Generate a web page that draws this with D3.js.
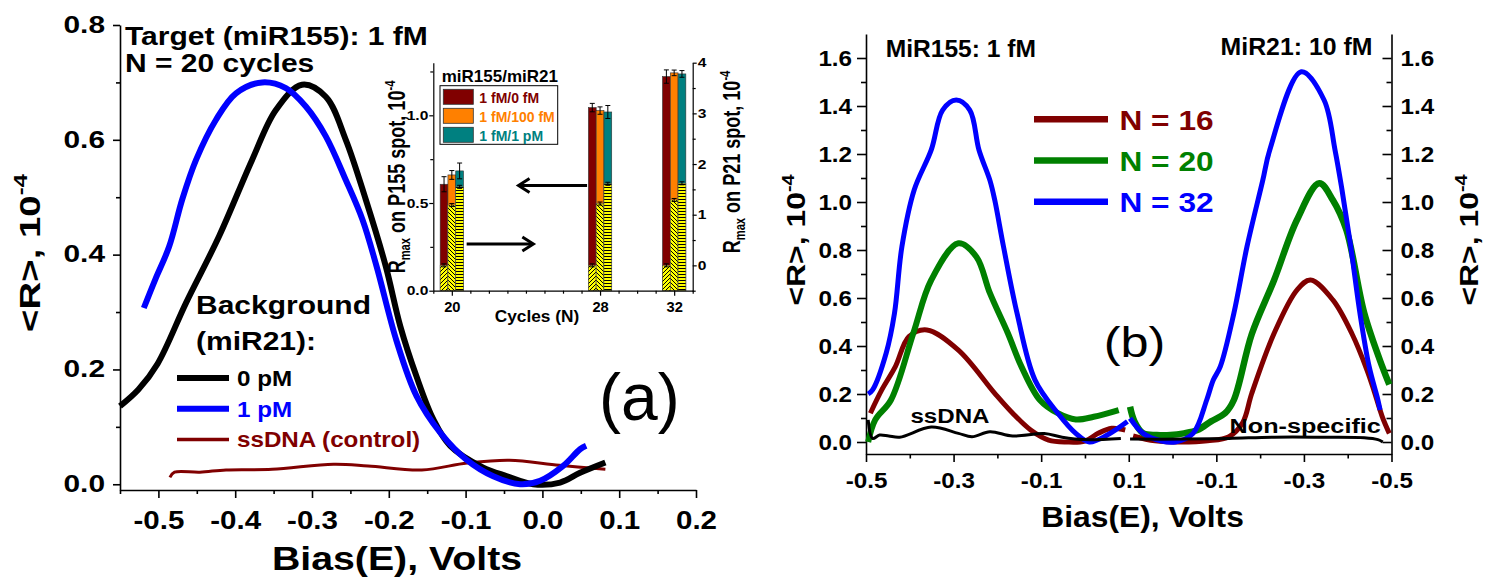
<!DOCTYPE html>
<html><head><meta charset="utf-8">
<script src="https://cdn.jsdelivr.net/npm/d3@7"></script>
<style>
html,body{margin:0;padding:0;background:#fff;}
svg{display:block;font-family:"Liberation Sans",Arial,Helvetica,sans-serif;}
</style></head><body>
<svg id="fig" width="1485" height="579"></svg>
<script>
// ---------- Panel (a): <R> vs bias, N = 20 cycles ----------
const biasTicksA = [-0.5, -0.4, -0.3, -0.2, -0.1, 0.0, 0.1, 0.2];
const rTicksA = [0.0, 0.2, 0.4, 0.6, 0.8];
// [bias (V), <R> (1e-4)]
const bg0pM = [[-0.55,0.136],[-0.526,0.165],[-0.501,0.21],[-0.464,0.316],[-0.421,0.432],[-0.378,0.565],
  [-0.347,0.652],[-0.313,0.696],[-0.282,0.675],[-0.256,0.60],[-0.23,0.496],[-0.204,0.38],[-0.185,0.275],
  [-0.164,0.188],[-0.142,0.113],[-0.12,0.067],[-0.077,0.029],[-0.046,0.014],[-0.012,0.0],[0.023,0.003],
  [0.049,0.02],[0.082,0.038]];
const bg1pM = [[-0.519,0.307],[-0.504,0.357],[-0.486,0.414],[-0.469,0.496],[-0.451,0.565],[-0.425,0.635],
  [-0.399,0.681],[-0.365,0.70],[-0.334,0.69],[-0.308,0.658],[-0.282,0.606],[-0.256,0.53],[-0.234,0.46],
  [-0.216,0.38],[-0.19,0.25],[-0.164,0.154],[-0.133,0.09],[-0.099,0.043],[-0.064,0.014],[-0.029,0.0],
  [-0.003,0.006],[0.027,0.032],[0.049,0.061],[0.057,0.067]];
const ssDNAControl = [[-0.485,0.012],[-0.479,0.021],[-0.446,0.021],[-0.412,0.025],[-0.352,0.026],[-0.272,0.035],
  [-0.227,0.032],[-0.157,0.025],[-0.098,0.037],[-0.043,0.042],[0.022,0.033],[0.082,0.026]];

// ---------- Inset: R_max per spot vs number of cycles ----------
const cycles = [20, 28, 32];
const mixLabels = ["1 fM/0 fM", "1 fM/100 fM", "1 fM/1 pM"];
const p155_0fM = [0.607, 1.044, 1.221];
const p155_100fM = [0.660, 1.027, 1.242];
const p155_1pM = [0.683, 1.019, 1.236];
const p155Err_0fM = [0.043, 0.024, 0.038];
const p155Err_100fM = [0.025, 0.021, 0.016];
const p155Err_1pM = [0.045, 0.037, 0.019];
const p21_0fM = [0.0, 0.0, 0.0];
const p21_100fM = [1.19, 1.22, 1.29];
const p21_1pM = [1.55, 1.61, 1.62];
const p21Err = [0.03, 0.03, 0.03];

// ---------- Panel (b): forward sweep over P155, return sweep over P21 ----------
const sweepTickBias = [-0.5, -0.3, -0.1, 0.1, -0.1, -0.3, -0.5];
const sweepTickLeg = [0, 0, 0, 0, 1, 1, 1];
const rTicksB = [0.0, 0.2, 0.4, 0.6, 0.8, 1.0, 1.2, 1.4, 1.6];
// leg 0: MiR155 spot (bias rising), leg 1: MiR21 spot (bias falling); [bias (V), <R> (1e-4)]
const n16Mir155 = [[-0.49,0.12],[-0.464,0.217],[-0.433,0.314],[-0.402,0.439],[-0.361,0.467],[-0.289,0.383],
  [-0.206,0.203],[-0.165,0.12],[-0.124,0.05],[-0.083,0.008],[-0.042,0.0],[0.0,0.004],[0.03,0.036],
  [0.061,0.057],[0.092,0.05]];
const n16Mir21 = [[0.09,0.025],[0.04,0.005],[-0.02,0.0],[-0.08,0.005],[-0.129,0.022],[-0.16,0.08],[-0.181,0.203],
  [-0.232,0.453],[-0.284,0.633],[-0.315,0.675],[-0.366,0.592],[-0.41,0.45],[-0.444,0.30],[-0.459,0.22],
  [-0.479,0.105],[-0.495,0.036]];
const n20Mir155 = [[-0.495,0.0],[-0.479,0.092],[-0.443,0.175],[-0.392,0.453],[-0.351,0.675],[-0.289,0.828],
  [-0.248,0.772],[-0.217,0.62],[-0.176,0.453],[-0.145,0.314],[-0.103,0.175],[-0.062,0.12],[-0.021,0.094],
  [0.02,0.105],[0.077,0.133]];
const n20Mir21 = [[0.097,0.147],[0.087,0.086],[0.067,0.036],[0.036,0.029],[0.005,0.029],[-0.026,0.036],
  [-0.057,0.05],[-0.088,0.086],[-0.12,0.12],[-0.14,0.175],[-0.181,0.45],[-0.232,0.675],[-0.284,0.925],
  [-0.335,1.078],[-0.366,1.008],[-0.397,0.883],[-0.438,0.536],[-0.479,0.314],[-0.495,0.24]];
const n32Mir155 = [[-0.495,0.20],[-0.485,0.217],[-0.454,0.37],[-0.435,0.536],[-0.418,0.814],[-0.39,1.05],
  [-0.351,1.217],[-0.325,1.383],[-0.294,1.425],[-0.263,1.383],[-0.242,1.217],[-0.217,1.09],[-0.206,1.008],
  [-0.186,0.814],[-0.155,0.536],[-0.114,0.258],[-0.062,0.12],[-0.021,0.036],[0.01,0.0],[0.051,0.029],[0.097,0.085]];
const n32Mir21 = [[0.097,0.099],[0.067,0.036],[0.025,0.004],[-0.006,0.0],[-0.047,0.036],[-0.078,0.175],
  [-0.093,0.258],[-0.109,0.314],[-0.14,0.536],[-0.17,0.814],[-0.206,1.09],[-0.222,1.217],[-0.294,1.543],
  [-0.346,1.425],[-0.371,1.217],[-0.387,1.05],[-0.407,0.814],[-0.428,0.536],[-0.449,0.314],[-0.469,0.175],
  [-0.474,0.133]];
const ssDNAMir155 = [[-0.495,0.092],[-0.485,0.015],[-0.469,0.029],[-0.448,0.025],[-0.423,0.02],[-0.351,0.062],
  [-0.289,0.036],[-0.258,0.022],[-0.217,0.043],[-0.165,0.025],[-0.093,0.035],[-0.052,0.02],[0.0,0.01],[0.082,0.015]];
const ssDNAMir21 = [[0.097,0.012],[-0.026,0.012],[-0.129,0.015],[-0.232,0.02],[-0.335,0.02],[-0.438,0.018],
  [-0.469,0.01],[-0.48,0.0]];

const MAROON = "#800000", ORANGE = "#ff8000", TEAL = "#008080", YELLOW = "#ffff00";
const svg = d3.select("#fig");
const FONT = '"Liberation Sans", Arial, Helvetica, sans-serif';
const smooth = d3.curveCatmullRom.alpha(0.5);

// Text helper: parts are strings or {sub:..}/{sup:..}; kx stretches along the text, ky across it.
function label(g, x, y, parts, o = {}) {
  const size = o.size || 20;
  const t = g.append("text")
    .attr("transform", `translate(${x},${y}) rotate(${o.rotate || 0}) scale(${o.kx || 1},${o.ky || 1})`)
    .attr("text-anchor", o.anchor || "start")
    .attr("font-family", FONT)
    .attr("font-size", size)
    .attr("font-weight", o.weight || "bold")
    .attr("fill", o.fill || "#000");
  let shift = 0;
  parts.forEach(p => {
    let txt, target, fs = size;
    if (typeof p === "string") { txt = p; target = 0; }
    else if (p.sup !== undefined) { txt = p.sup; target = -0.42 * size; fs = size * 0.62; }
    else { txt = p.sub; target = 0.22 * size; fs = size * 0.62; }
    t.append("tspan").attr("dy", target - shift).attr("font-size", fs).text(txt);
    shift = target;
  });
  return t;
}

function styleAxis(g, o) {
  g.attr("font-family", null).attr("font-size", null);
  g.select(".domain").attr("stroke", "#000").attr("stroke-width", o.w || 1.6);
  g.selectAll(".tick line").attr("stroke", "#000").attr("stroke-width", o.w || 1.6);
  g.selectAll(".tick text")
    .attr("font-family", FONT).attr("font-size", o.size).attr("font-weight", "bold").attr("fill", "#000")
    .each(function () {
      const s = d3.select(this);
      const x0 = +s.attr("x") || 0;
      s.attr("transform", `translate(${x0},0) scale(${o.k || 1},1) translate(${-x0},0)`);
    });
}
function minorAxis(parent, axis, transform, w) {
  const g = parent.append("g").attr("transform", transform).call(axis.tickFormat(""));
  g.select(".domain").remove();
  g.selectAll(".tick line").attr("stroke", "#000").attr("stroke-width", w || 1.6);
  return g;
}

// ================= Panel (a) =================
const gA = svg.append("g");
const xA = d3.scaleLinear().domain([-0.55, 0.2]).range([120, 696]);
const yA = d3.scaleLinear().domain([-0.01, 0.8]).range([490, 25]);
const lineA = d3.line().x(d => xA(d[0])).y(d => yA(d[1])).curve(smooth);

const minorBiasA = d3.range(-0.55, 0.2001, 0.05).map(v => +v.toFixed(2)).filter(v => !biasTicksA.some(t => Math.abs(t - v) < 1e-6));
minorAxis(gA, d3.axisBottom(xA).tickValues(minorBiasA).tickSize(4), `translate(0,${yA(-0.01)})`);
const axA_x = gA.append("g").attr("transform", `translate(0,${yA(-0.01)})`)
  .call(d3.axisBottom(xA).tickValues(biasTicksA).tickSize(8).tickSizeOuter(0).tickPadding(13).tickFormat(d => d.toFixed(1)));
styleAxis(axA_x, { size: 25, k: 1.18 });
minorAxis(gA, d3.axisLeft(yA).tickValues([0.1, 0.3, 0.5, 0.7]).tickSize(4), `translate(${xA(-0.55)},0)`);
const axA_y = gA.append("g").attr("transform", `translate(${xA(-0.55)},0)`)
  .call(d3.axisLeft(yA).tickValues(rTicksA).tickSize(7).tickSizeOuter(0).tickPadding(8).tickFormat(d => d.toFixed(1)));
styleAxis(axA_y, { size: 23, k: 1.3 });

gA.append("path").datum(ssDNAControl).attr("d", lineA).attr("fill", "none").attr("stroke", MAROON).attr("stroke-width", 3);
gA.append("path").datum(bg0pM).attr("d", lineA).attr("fill", "none").attr("stroke", "#000").attr("stroke-width", 6);
gA.append("path").datum(bg1pM).attr("d", lineA).attr("fill", "none").attr("stroke", "#0000ff").attr("stroke-width", 6);

label(gA, 397, 570, ["Bias(E), Volts"], { size: 33, kx: 1.19, anchor: "middle" });
label(gA, 40, 253, ["<R>, 10", { sup: "-4" }], { size: 32, rotate: -90, kx: 1.2, ky: 0.95, anchor: "middle" });
label(gA, 125, 45, ["Target (miR155): 1 fM"], { size: 25, kx: 1.2 });
label(gA, 125, 72, ["N = 20 cycles"], { size: 25, kx: 1.2 });
label(gA, 196, 314, ["Background"], { size: 25, kx: 1.2 });
label(gA, 196, 350, ["(miR21):"], { size: 25, kx: 1.2 });
const legA = [
  { name: "0 pM", color: "#000", w: 6, fill: "#000" },
  { name: "1 pM", color: "#0000ff", w: 6, fill: "#0000ff" },
  { name: "ssDNA (control)", color: MAROON, w: 3.5, fill: MAROON }
];
legA.forEach((d, i) => {
  const yy = 378 + i * 30.7;
  gA.append("line").attr("x1", 177).attr("x2", 229).attr("y1", yy).attr("y2", yy).attr("stroke", d.color).attr("stroke-width", d.w);
  label(gA, 237, yy + 8, [d.name], { size: 22, kx: 1.1, fill: d.fill });
});
label(gA, 599, 420, ["(a)"], { size: 66, weight: "normal" });

// ================= Inset =================
const gI = svg.append("g");
const xI = d3.scaleLinear().domain([19, 33]).range([433.3, 692.7]);
const yIL = d3.scaleLinear().domain([0, 1.3]).range([290.7, 62.7]);
const yIR = d3.scaleLinear().domain([-0.5, 4]).range([290.7, 62.7]);
const defs = svg.append("defs");
function hatch(id, d, size) {
  const p = defs.append("pattern").attr("id", id).attr("patternUnits", "userSpaceOnUse").attr("width", size).attr("height", size);
  p.append("rect").attr("width", size).attr("height", size).attr("fill", YELLOW);
  p.append("path").attr("d", d).attr("stroke", "#000").attr("stroke-width", 1);
}
hatch("hA", "M0,4 L4,0 M-1,1 L1,-1 M3,5 L5,3", 4);
hatch("hB", "M0,0 L4,4 M-1,3 L1,5 M3,-1 L5,1", 4);
hatch("hC", "M0,1.5 L4,1.5", 3);

const barW = xI(19.42) - xI(19);
const series = [
  { top: p155_0fM, err: p155Err_0fM, low: p21_0fM, color: MAROON, hatch: "hA", off: -1 },
  { top: p155_100fM, err: p155Err_100fM, low: p21_100fM, color: ORANGE, hatch: "hB", off: 0 },
  { top: p155_1pM, err: p155Err_1pM, low: p21_1pM, color: TEAL, hatch: "hC", off: 1 }
];
series.forEach(s => {
  cycles.forEach((n, i) => {
    const x0 = xI(n) + (s.off - 0.5) * barW;
    gI.append("rect").attr("x", x0).attr("width", barW).attr("y", yIL(s.top[i])).attr("height", yIL(0) - yIL(s.top[i]))
      .attr("fill", s.color).attr("stroke", "#333").attr("stroke-width", 0.6);
    gI.append("rect").attr("x", x0).attr("width", barW).attr("y", yIR(s.low[i])).attr("height", yIR(-0.5) - yIR(s.low[i]))
      .attr("fill", `url(#${s.hatch})`).attr("stroke", "#555").attr("stroke-width", 0.6);
    const cx = x0 + barW / 2;
    [[yIL(s.top[i] + s.err[i]), yIL(s.top[i] - s.err[i])], [yIR(s.low[i] + p21Err[i]), yIR(s.low[i] - p21Err[i])]].forEach(([a, b]) => {
      gI.append("line").attr("x1", cx).attr("x2", cx).attr("y1", a).attr("y2", b).attr("stroke", "#000").attr("stroke-width", 1);
      [a, b].forEach(yy => gI.append("line").attr("x1", cx - 2.5).attr("x2", cx + 2.5).attr("y1", yy).attr("y2", yy).attr("stroke", "#000").attr("stroke-width", 1));
    });
  });
});

minorAxis(gI, d3.axisBottom(xI).tickValues(d3.range(19, 34).filter(v => !cycles.includes(v))).tickSize(3), `translate(0,${yIL(0)})`, 1.2);
const axI_x = gI.append("g").attr("transform", `translate(0,${yIL(0)})`)
  .call(d3.axisBottom(xI).tickValues(cycles).tickSize(5).tickSizeOuter(0).tickPadding(6));
styleAxis(axI_x, { size: 14, k: 1.05, w: 1.2 });
minorAxis(gI, d3.axisLeft(yIL).tickValues([0.25, 0.75, 1.25]).tickSize(3), `translate(${xI(19)},0)`, 1.2);
const axI_l = gI.append("g").attr("transform", `translate(${xI(19)},0)`)
  .call(d3.axisLeft(yIL).tickValues([0, 0.5, 1.0]).tickSize(4).tickSizeOuter(0).tickPadding(1).tickFormat(d => d.toFixed(1)));
styleAxis(axI_l, { size: 13, k: 1.2, w: 1.2 });
minorAxis(gI, d3.axisRight(yIR).tickValues([-0.5, 0.5, 1.5, 2.5, 3.5]).tickSize(3), `translate(${xI(33)},0)`, 1.2);
const axI_r = gI.append("g").attr("transform", `translate(${xI(33)},0)`)
  .call(d3.axisRight(yIR).tickValues([0, 1, 2, 3, 4]).tickSize(4).tickSizeOuter(0).tickPadding(1).tickFormat(d => d.toFixed(0)));
styleAxis(axI_r, { size: 13, k: 1.2, w: 1.2 });

label(gI, 537, 322, ["Cycles (N)"], { size: 16, kx: 1.08, anchor: "middle" });
label(gI, 405, 177, ["R", { sub: "max" }, " on P155 spot, 10", { sup: "-4" }], { size: 19, rotate: -90, kx: 0.95, ky: 1.25, anchor: "middle" });
label(gI, 740, 162, ["R", { sub: "max" }, " on P21 spot, 10", { sup: "-4" }], { size: 19, rotate: -90, kx: 0.95, ky: 1.25, anchor: "middle" });

label(gI, 441.7, 81.7, ["miR155/miR21"], { size: 17 });
gI.append("rect").attr("x", 440).attr("y", 85.7).attr("width", 117.7).attr("height", 58.6).attr("fill", "none").attr("stroke", "#000").attr("stroke-width", 1);
[MAROON, ORANGE, TEAL].forEach((c, i) => {
  const yy = 89.3 + i * 19;
  gI.append("rect").attr("x", 443.3).attr("y", yy).attr("width", 30).attr("height", 15).attr("fill", c).attr("stroke", "#333").attr("stroke-width", 0.8);
  label(gI, 479.3, yy + 14, [mixLabels[i]], { size: 14, fill: c });
});

function arrow(xFrom, xTo, yv) {
  const dir = Math.sign(xTo - xFrom);
  gI.append("line").attr("x1", xFrom).attr("x2", xTo - dir * 1).attr("y1", yv).attr("y2", yv).attr("stroke", "#000").attr("stroke-width", 3);
  gI.append("path").attr("d", `M${xTo - dir * 11},${yv - 7} L${xTo},${yv} L${xTo - dir * 11},${yv + 7}`)
    .attr("fill", "none").attr("stroke", "#000").attr("stroke-width", 3).attr("stroke-linejoin", "miter");
}
arrow(xI(27.3), xI(23.6), yIL(0.6));
arrow(xI(20.8), xI(24.4), yIL(0.266));

// ================= Panel (b) =================
const gB = svg.append("g");
const sweep = (v, leg) => leg === 0 ? v + 0.5 : 0.7 - v;   // position along the two-spot scan
const xB = d3.scaleLinear().domain([0, 1.2]).range([866, 1391.5]);
const yB = d3.scaleLinear().domain([-0.05, 1.7]).range([454, 34]);
const lineB = leg => d3.line().x(d => xB(sweep(d[0], leg))).y(d => yB(d[1])).curve(smooth);

const sweepPos = sweepTickBias.map((v, i) => sweep(v, sweepTickLeg[i]));
minorAxis(gB, d3.axisBottom(xB).tickValues([0.1, 0.3, 0.5, 0.7, 0.9, 1.1]).tickSize(4.5), `translate(0,${yB(-0.05)})`);
const axB_x = gB.append("g").attr("transform", `translate(0,${yB(-0.05)})`)
  .call(d3.axisBottom(xB).tickValues(sweepPos).tickSize(8).tickSizeOuter(0).tickPadding(10)
    .tickFormat((d, i) => sweepTickBias[i].toFixed(1)));
styleAxis(axB_x, { size: 22, k: 1.1 });
const minorRB = [0.1, 0.3, 0.5, 0.7, 0.9, 1.1, 1.3, 1.5];
minorAxis(gB, d3.axisLeft(yB).tickValues(minorRB).tickSize(5), `translate(${xB(0)},0)`);
const axB_l = gB.append("g").attr("transform", `translate(${xB(0)},0)`)
  .call(d3.axisLeft(yB).tickValues(rTicksB).tickSize(9).tickSizeOuter(0).tickPadding(5).tickFormat(d => d.toFixed(1)));
styleAxis(axB_l, { size: 22, k: 1.1 });
minorAxis(gB, d3.axisRight(yB).tickValues(minorRB).tickSize(-5), `translate(${xB(1.2)},0)`);
const axB_r = gB.append("g").attr("transform", `translate(${xB(1.2)},0)`)
  .call(d3.axisRight(yB).tickValues(rTicksB).tickSize(-9).tickSizeOuter(0).tickPadding(9).tickFormat(d => d.toFixed(1)));
styleAxis(axB_r, { size: 22, k: 1.1 });

const curvesB = [
  { data: n16Mir155, leg: 0, c: MAROON, w: 5 }, { data: n16Mir21, leg: 1, c: MAROON, w: 5 },
  { data: n20Mir155, leg: 0, c: "#008000", w: 6 }, { data: n20Mir21, leg: 1, c: "#008000", w: 6.5 },
  { data: n32Mir155, leg: 0, c: "#0000ff", w: 5 }, { data: n32Mir21, leg: 1, c: "#0000ff", w: 5 },
  { data: ssDNAMir155, leg: 0, c: "#000", w: 3 }, { data: ssDNAMir21, leg: 1, c: "#000", w: 3 }
];
curvesB.forEach(s => gB.append("path").datum(s.data).attr("d", lineB(s.leg)).attr("fill", "none")
  .attr("stroke", s.c).attr("stroke-width", s.w));

label(gB, 1142.6, 527, ["Bias(E), Volts"], { size: 30, kx: 1.06, anchor: "middle" });
label(gB, 805, 240, ["<R>, 10", { sup: "-4" }], { size: 28, rotate: -90, kx: 1.14, ky: 0.91, anchor: "middle" });
label(gB, 1478, 240, ["<R>, 10", { sup: "-4" }], { size: 28, rotate: -90, kx: 1.14, ky: 0.91, anchor: "middle" });
label(gB, 885.7, 57, ["MiR155: 1 fM"], { size: 23, kx: 1.07 });
label(gB, 1220.6, 55, ["MiR21: 10 fM"], { size: 23, kx: 1.08 });
label(gB, 910.4, 423.3, ["ssDNA"], { size: 21, kx: 1.15 });
label(gB, 1229.6, 433.3, ["Non-specific"], { size: 21, kx: 1.2 });
label(gB, 1103.7, 357, ["(b)"], { size: 42, kx: 1.2, weight: "normal" });
const legB = [{ n: "N = 16", c: MAROON }, { n: "N = 20", c: "#008000" }, { n: "N = 32", c: "#0000ff" }];
legB.forEach((d, i) => {
  const yy = 119.3 + i * 41.2;
  gB.append("line").attr("x1", 1034).attr("x2", 1108).attr("y1", yy).attr("y2", yy).attr("stroke", d.c).attr("stroke-width", 6.5);
  label(gB, 1119.5, yy + 10.5, [d.n], { size: 28, kx: 1.13, fill: d.c });
});
</script>
</body></html>
